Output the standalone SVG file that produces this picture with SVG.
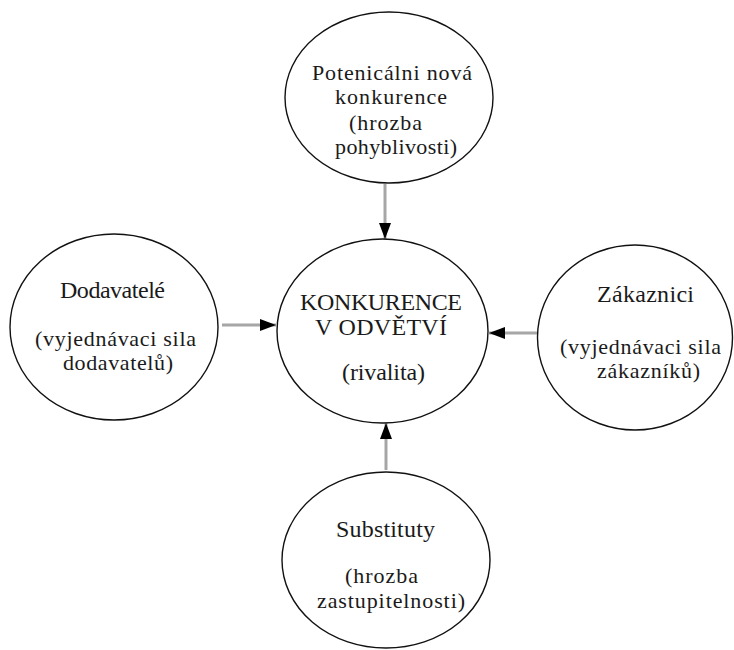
<svg xmlns="http://www.w3.org/2000/svg" width="734" height="650" viewBox="0 0 734 650">
  <style>
    .node ellipse { fill: #ffffff; stroke: #111111; stroke-width: 1.4; }
    .node text { font-family: "Liberation Serif", "Times New Roman", serif; font-size: 22px; fill: #1a1a1a; }
    .node text.big { font-size: 24px; }
    .mid { text-anchor: middle; }
    .edge { stroke: #a6a6a6; stroke-width: 3; fill: none; marker-end: url(#head); }
  </style>
  <defs>
    <marker id="head" markerUnits="userSpaceOnUse" markerWidth="17" markerHeight="14" refX="16" refY="7" orient="auto">
      <path d="M0,1 L16,7 L0,13 Z" fill="#000000"/>
    </marker>
  </defs>
  <rect width="734" height="650" fill="#ffffff"/>

  <g id="connectors">
    <line class="edge" x1="385" y1="184" x2="385" y2="239"/>
    <line class="edge" x1="222" y1="325" x2="276" y2="325"/>
    <line class="edge" x1="537" y1="333" x2="489" y2="333"/>
    <line class="edge" x1="386" y1="470" x2="386" y2="423"/>
  </g>

  <g id="nova-konkurence" class="node">
    <ellipse cx="389" cy="97.5" rx="104" ry="85.5"/>
    <text x="312" y="80" textLength="160">Potenicálni nová</text>
    <text x="335" y="104" textLength="112">konkurence</text>
    <text x="349" y="130" textLength="73">(hrozba</text>
    <text x="335" y="154" textLength="122">pohyblivosti)</text>
  </g>

  <g id="konkurence-v-odvetvi" class="node">
    <ellipse cx="382.5" cy="331" rx="105.5" ry="92"/>
    <text class="big" x="300" y="310" textLength="162">KONKURENCE</text>
    <text class="big" x="315" y="335" textLength="132">V ODVĚTVÍ</text>
    <text class="big" x="342" y="380" textLength="83">(rivalita)</text>
  </g>

  <g id="dodavatele" class="node">
    <ellipse cx="114" cy="327" rx="104" ry="93"/>
    <text class="big" x="60" y="298" textLength="105">Dodavatelé</text>
    <text x="35" y="346" textLength="161">(vyjednávaci sila</text>
    <text x="63" y="370" textLength="110">dodavatelů)</text>
  </g>

  <g id="zakaznici" class="node">
    <ellipse cx="635" cy="337.5" rx="97.5" ry="92.5"/>
    <text class="big" x="597" y="302" textLength="97">Zákaznici</text>
    <text x="560" y="354" textLength="161">(vyjednávaci sila</text>
    <text x="597" y="378" textLength="103">zákazníků)</text>
  </g>

  <g id="substituty" class="node">
    <ellipse cx="386" cy="560" rx="104" ry="88"/>
    <text class="big" x="336" y="537" textLength="99">Substituty</text>
    <text x="345" y="583" textLength="73">(hrozba</text>
    <text x="317" y="608" textLength="148">zastupitelnosti)</text>
  </g>
</svg>
